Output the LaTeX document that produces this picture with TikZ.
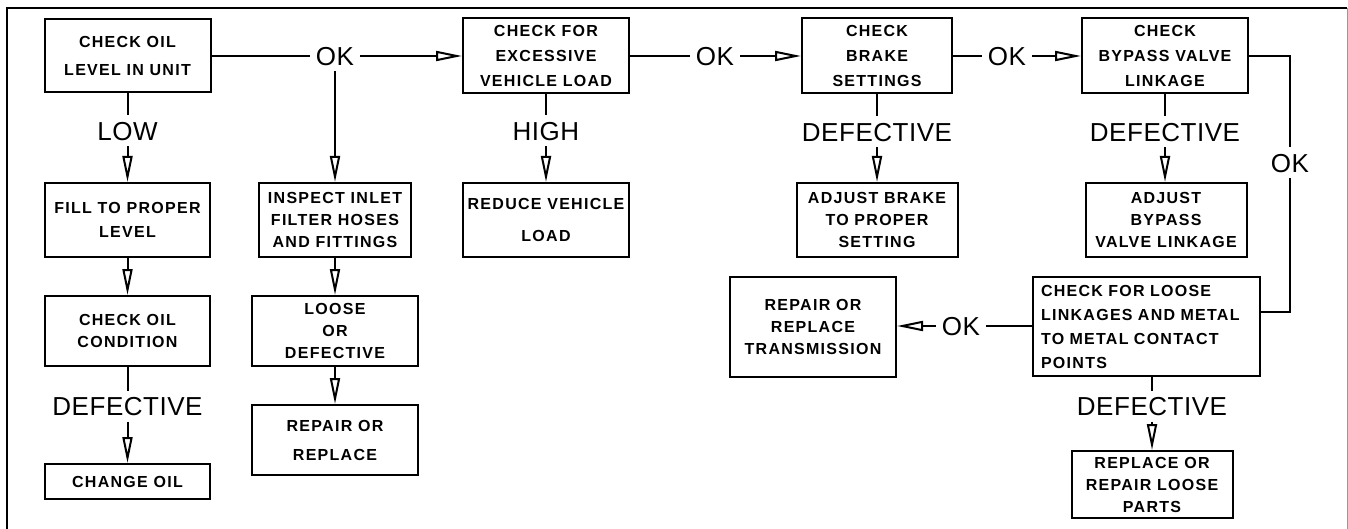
\documentclass[tikz,border=0pt]{standalone}
\usepackage{fontspec}
\setmainfont{Liberation Sans}
\newfontfamily\boxfont[LetterSpace=8]{Liberation Sans Bold}
\newfontfamily\lblfont[LetterSpace=2]{Liberation Sans}
\usetikzlibrary{arrows.meta}
\begin{document}
\begin{tikzpicture}[x=1pt,y=-1pt,line width=2pt,
  box/.style={draw, line width=2pt, align=center, inner sep=0pt,
    font=\boxfont\fontsize{16}{22}\selectfont},
  lbl/.style={inner xsep=5pt, inner ysep=5pt, text height=19pt, text depth=0pt,
    font=\lblfont\fontsize{26}{26}\selectfont},
  arr/.style={-{Triangle[open,length=26pt,width=10pt]}}]
\useasboundingbox (0,0) rectangle (1348,529);
% frame
\draw (7,529) -- (7,8) -- (1347,8);
\draw[black!40, line width=1pt] (1347,8) -- (1347,529);

% boxes
\node[box, minimum width=166pt, minimum height=73pt, font=\boxfont\fontsize{16}{28}\selectfont] (b1) at (127.5,56) {CHECK OIL\\LEVEL IN UNIT};
\node[box, minimum width=165pt, minimum height=74pt, font=\boxfont\fontsize{16}{24}\selectfont] (b2) at (127.5,220) {FILL TO PROPER\\LEVEL};
\node[box, minimum width=165pt, minimum height=70pt] (b3) at (127.5,331) {CHECK OIL\\CONDITION};
\node[box, minimum width=165pt, minimum height=35pt] (b4) at (127.5,481.5) {CHANGE OIL};
\node[box, minimum width=152pt, minimum height=74pt] (b5) at (335,220) {INSPECT INLET\\FILTER HOSES\\AND FITTINGS};
\node[box, minimum width=166pt, minimum height=70pt] (b6) at (335,331) {LOOSE\\OR\\DEFECTIVE};
\node[box, minimum width=166pt, minimum height=70pt, font=\boxfont\fontsize{16}{29}\selectfont] (b7) at (335,440) {REPAIR OR\\REPLACE};
\node[box, minimum width=166pt, minimum height=75pt, font=\boxfont\fontsize{16}{25}\selectfont] (b8) at (546,56) {CHECK FOR\\EXCESSIVE\\VEHICLE LOAD};
\node[box, minimum width=166pt, minimum height=74pt, font=\boxfont\fontsize{16}{32}\selectfont] (b9) at (546,220) {REDUCE VEHICLE\\LOAD};
\node[box, minimum width=150pt, minimum height=75pt, font=\boxfont\fontsize{16}{25}\selectfont] (b10) at (877,56) {CHECK\\BRAKE\\SETTINGS};
\node[box, minimum width=161pt, minimum height=74pt] (b11) at (877,220) {ADJUST BRAKE\\TO PROPER\\SETTING};
\node[box, minimum width=166pt, minimum height=75pt, font=\boxfont\fontsize{16}{25}\selectfont] (b12) at (1165,56) {CHECK\\BYPASS VALVE\\LINKAGE};
\node[box, minimum width=161pt, minimum height=74pt] (b13) at (1166,220) {ADJUST\\BYPASS\\VALVE LINKAGE};
\node[box, align=left, text width=211pt, inner xsep=8pt, minimum height=99pt, font=\boxfont\fontsize{16}{24}\selectfont] (b14) at (1146.5,326.5) {CHECK FOR LOOSE\\LINKAGES AND METAL\\TO METAL CONTACT\\POINTS};
\node[box, minimum width=166pt, minimum height=100pt] (b15) at (813,327) {REPAIR OR\\REPLACE\\TRANSMISSION};
\node[box, minimum width=161pt, minimum height=67pt] (b16) at (1152,484.5) {REPLACE OR\\REPAIR LOOSE\\PARTS};

% labels
\node[lbl] (ok1) at (335,56) {OK};
\node[lbl] (low) at (127.5,131) {LOW};
\node[lbl] (def1) at (127.5,406) {DEFECTIVE};
\node[lbl] (ok2) at (715,56) {OK};
\node[lbl] (high) at (546,131) {HIGH};
\node[lbl] (ok3) at (1007,56) {OK};
\node[lbl] (def2) at (877,132) {DEFECTIVE};
\node[lbl] (def3) at (1165,132) {DEFECTIVE};
\node[lbl] (ok4) at (1290,163) {OK};
\node[lbl] (ok5) at (961,326) {OK};
\node[lbl] (def4) at (1152,406) {DEFECTIVE};
\coordinate (c1) at (1290,56);
\coordinate (c2) at (1290,312);

% connectors
\draw (b1) -- (ok1);
\draw[arr] (ok1) -- (b8);
\draw[arr] (ok1) -- (b5);
\draw[arr] (b5) -- (b6);
\draw[arr] (b6) -- (b7);
\draw (b1) -- (low);
\draw[arr] (low) -- (b2);
\draw[arr] (b2) -- (b3);
\draw (b3) -- (def1);
\draw[arr] (def1) -- (b4);
\draw (b8) -- (high);
\draw[arr] (high) -- (b9);
\draw (b8) -- (ok2);
\draw[arr] (ok2) -- (b10);
\draw (b10) -- (def2);
\draw[arr] (def2) -- (b11);
\draw (b10) -- (ok3);
\draw[arr] (ok3) -- (b12);
\draw (b12) -- (def3);
\draw[arr] (def3) -- (b13.north -| def3);
\draw (b12.east) -- (c1) -- (ok4);
\draw (ok4) -- (c2) -- (c2 -| b14.east);
\draw (b14.west |- ok5) -- (ok5);
\draw[arr] (ok5) -- (b15.east |- ok5);
\draw (b14.south -| def4) -- (def4);
\draw[arr] (def4) -- (b16);
\end{tikzpicture}
\end{document}
